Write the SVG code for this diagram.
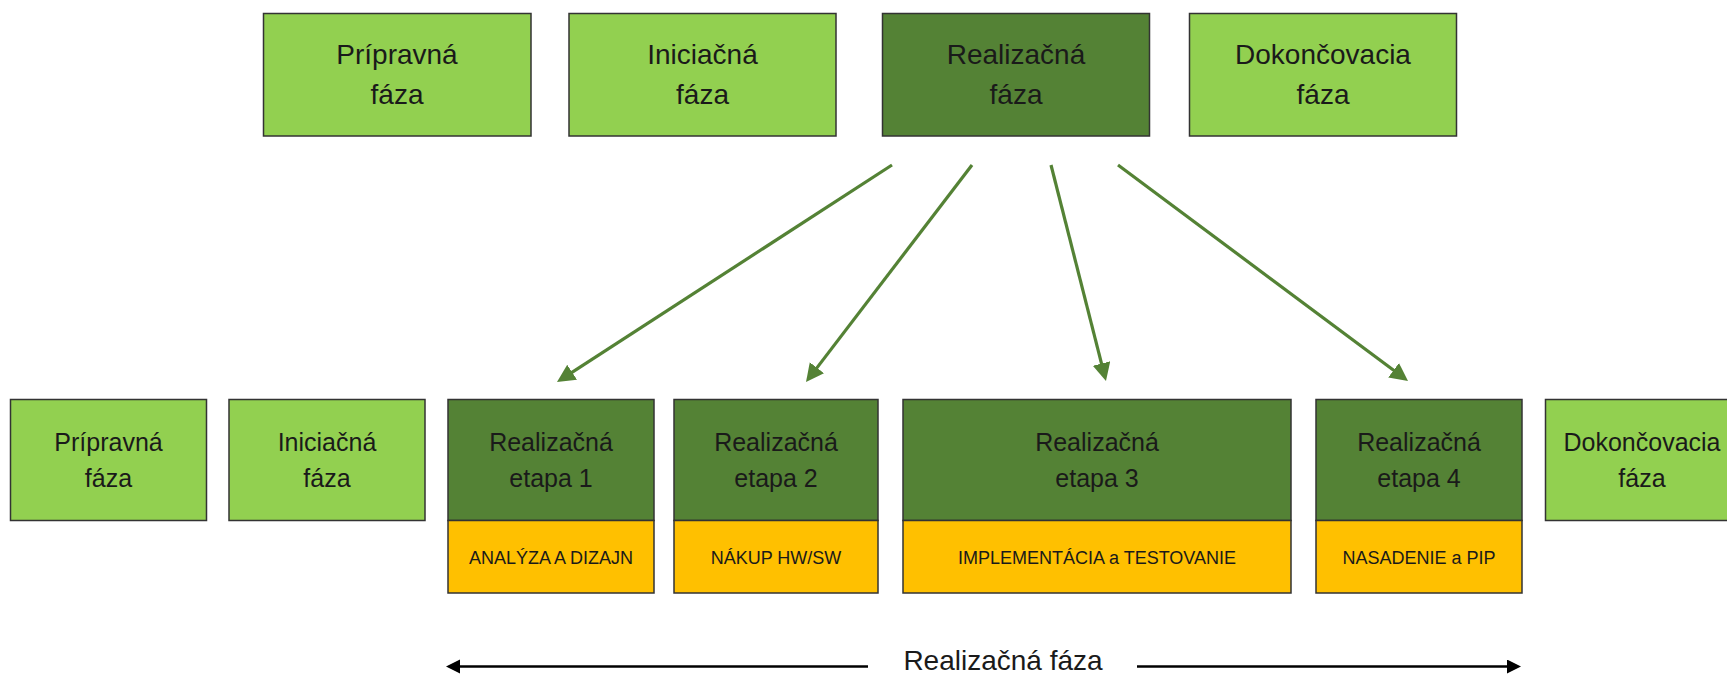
<svg xmlns="http://www.w3.org/2000/svg" width="1727" height="676" viewBox="0 0 1727 676">
<style>
.light{fill:#92D050;stroke:#333333;stroke-width:1.5}
.dark{fill:#548235;stroke:#333333;stroke-width:1.5}
.yel{fill:#FFC000;stroke:#333333;stroke-width:1.5}
text{font-family:"Liberation Sans",Arial,sans-serif;fill:#1a1a1a;text-anchor:middle}
.t1{font-size:28px}
.t2{font-size:25px}
.t3{font-size:18px}
.ga{stroke:#548235;stroke-width:3.2;fill:none}
.ba{stroke:#000;stroke-width:2.5;fill:none}
</style>
<defs>
<marker id="gh" markerUnits="userSpaceOnUse" markerWidth="20" markerHeight="20" refX="8" refY="9" orient="auto">
<path d="M0,0 L18,9 L0,18 z" fill="#548235"/>
</marker>
<marker id="bh" markerUnits="userSpaceOnUse" markerWidth="16" markerHeight="16" refX="4" refY="7" orient="auto-start-reverse">
<path d="M0,0 L14,7 L0,14 z" fill="#000"/>
</marker>
</defs>
<rect width="1727" height="676" fill="#fff"/>

<g id="top-pripravna"><rect class="light" x="263.5" y="13.5" width="267.5" height="122.5"/><text class="t1" x="397" y="64">Prípravná</text><text class="t1" x="397" y="104">fáza</text></g>
<g id="top-iniciacna"><rect class="light" x="569" y="13.5" width="267" height="122.5"/><text class="t1" x="702.5" y="64">Iniciačná</text><text class="t1" x="702.5" y="104">fáza</text></g>
<g id="top-realizacna"><rect class="dark" x="882.5" y="13.5" width="267" height="122.5"/><text class="t1" x="1016" y="64">Realizačná</text><text class="t1" x="1016" y="104">fáza</text></g>
<g id="top-dokoncovacia"><rect class="light" x="1189.5" y="13.5" width="267" height="122.5"/><text class="t1" x="1323" y="64">Dokončovacia</text><text class="t1" x="1323" y="104">fáza</text></g>

<g id="bot-pripravna"><rect class="light" x="10.5" y="399.5" width="196" height="121"/><text class="t2" x="108.5" y="451">Prípravná</text><text class="t2" x="108.5" y="487">fáza</text></g>
<g id="bot-iniciacna"><rect class="light" x="229" y="399.5" width="196" height="121"/><text class="t2" x="327" y="451">Iniciačná</text><text class="t2" x="327" y="487">fáza</text></g>
<g id="etapa1"><rect class="dark" x="448" y="399.5" width="206" height="121"/><rect class="yel" x="448" y="520.5" width="206" height="72.5"/><text class="t2" x="551" y="451">Realizačná</text><text class="t2" x="551" y="487">etapa 1</text><text class="t3" x="551" y="564">ANALÝZA A DIZAJN</text></g>
<g id="etapa2"><rect class="dark" x="674" y="399.5" width="204" height="121"/><rect class="yel" x="674" y="520.5" width="204" height="72.5"/><text class="t2" x="776" y="451">Realizačná</text><text class="t2" x="776" y="487">etapa 2</text><text class="t3" x="776" y="564">NÁKUP HW/SW</text></g>
<g id="etapa3"><rect class="dark" x="903" y="399.5" width="388" height="121"/><rect class="yel" x="903" y="520.5" width="388" height="72.5"/><text class="t2" x="1097" y="451">Realizačná</text><text class="t2" x="1097" y="487">etapa 3</text><text class="t3" x="1097" y="564">IMPLEMENTÁCIA a TESTOVANIE</text></g>
<g id="etapa4"><rect class="dark" x="1316" y="399.5" width="206" height="121"/><rect class="yel" x="1316" y="520.5" width="206" height="72.5"/><text class="t2" x="1419" y="451">Realizačná</text><text class="t2" x="1419" y="487">etapa 4</text><text class="t3" x="1419" y="564">NASADENIE a PIP</text></g>
<g id="bot-dokoncovacia"><rect class="light" x="1545.5" y="399.5" width="193" height="121"/><text class="t2" x="1642" y="451">Dokončovacia</text><text class="t2" x="1642" y="487">fáza</text></g>

<g id="connectors">
<line class="ga" x1="892" y1="165" x2="565.4" y2="376.6" marker-end="url(#gh)"/>
<line class="ga" x1="972" y1="165" x2="812.1" y2="374.1" marker-end="url(#gh)"/>
<line class="ga" x1="1051" y1="165" x2="1103.5" y2="371.3" marker-end="url(#gh)"/>
<line class="ga" x1="1118" y1="165" x2="1400" y2="375" marker-end="url(#gh)"/>
<line class="ba" x1="868" y1="666.5" x2="456" y2="666.5" marker-end="url(#bh)"/>
<line class="ba" x1="1137" y1="666.5" x2="1511" y2="666.5" marker-end="url(#bh)"/>
<text x="1003" y="670" style="font-size:28px">Realizačná fáza</text>
</g>
</svg>
